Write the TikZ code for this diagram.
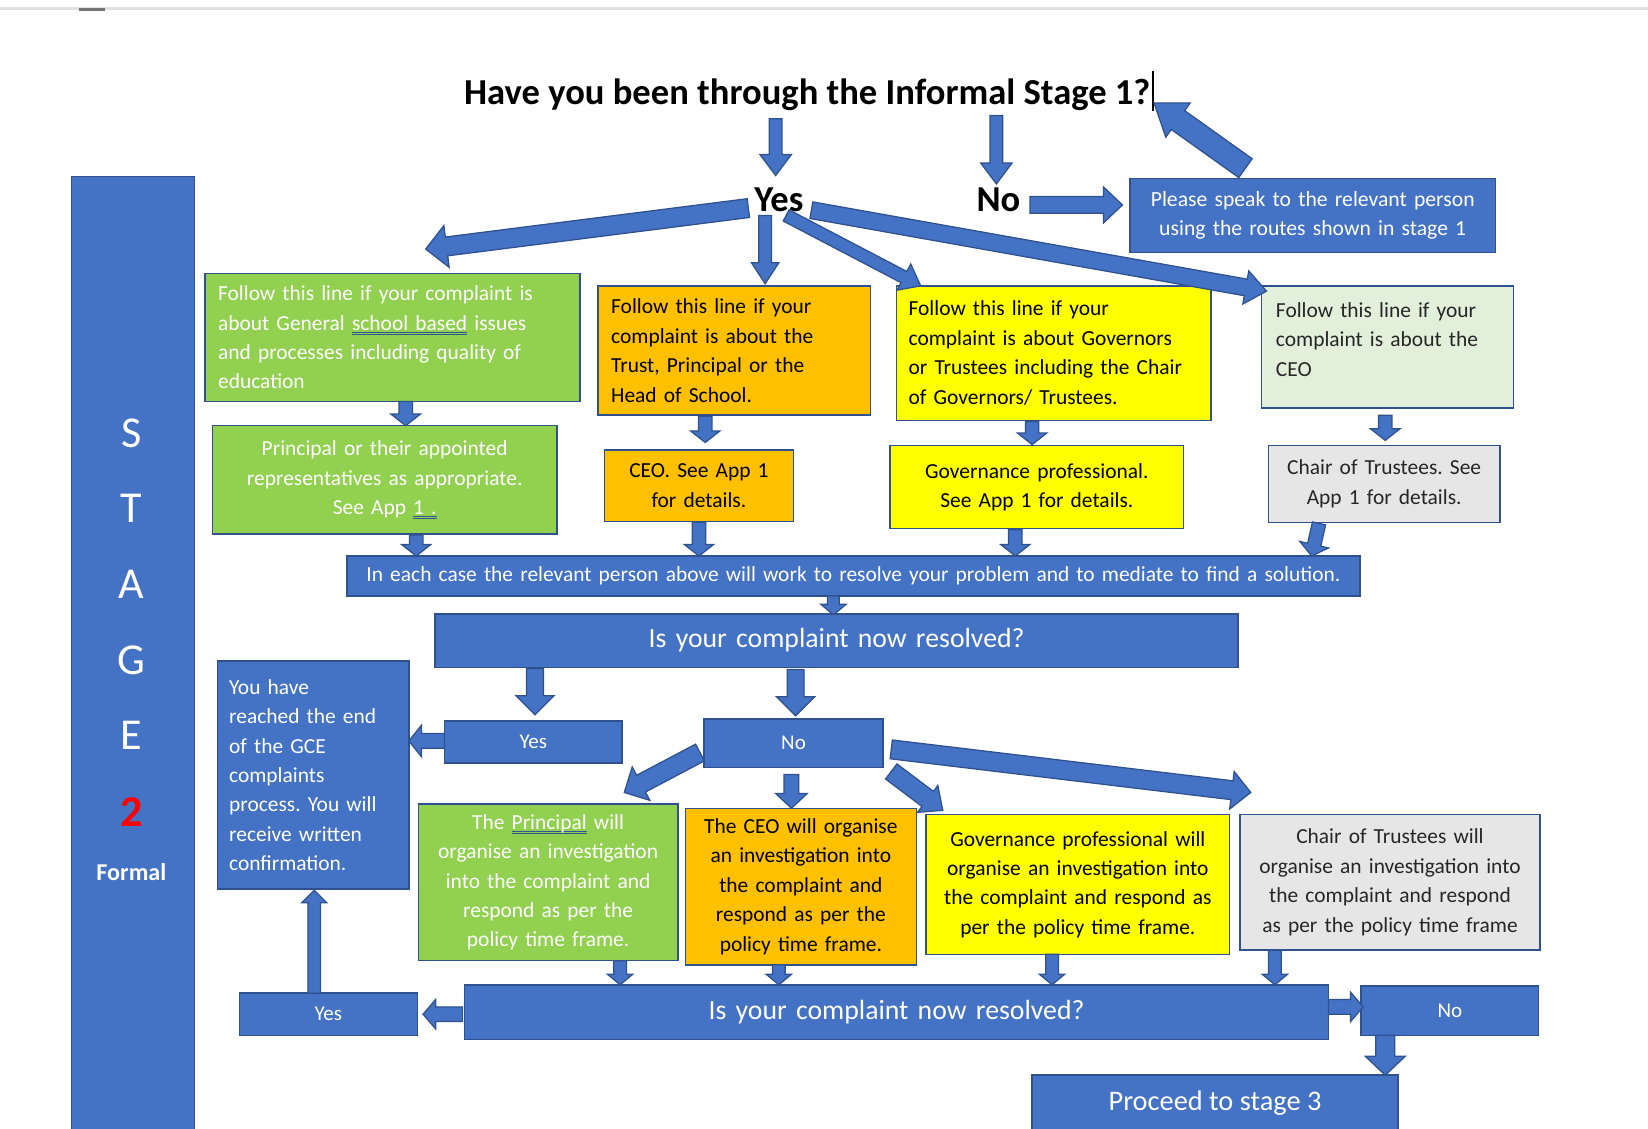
\documentclass[tikz,border=0pt]{standalone}
\usepackage{fontspec}
\setmainfont{Carlito}
\usepackage{tikz}
\usetikzlibrary{calc}
\definecolor{mblue}{HTML}{4472C4}
\definecolor{edgeblue}{HTML}{2F528F}
\definecolor{mgreen}{HTML}{92D050}
\definecolor{morange}{HTML}{FFC000}
\definecolor{myellow}{HTML}{FFFF00}
\definecolor{palegreen}{HTML}{E2EFDA}
\definecolor{lgrey}{HTML}{E7E6E6}
\definecolor{spellblue}{HTML}{2F5597}
\frenchspacing
\tikzset{
  boxed/.style={
    draw=edgeblue,
    line width=0.7pt,
    inner sep=0pt,
    font=\fontsize{10.2}{14}\selectfont,
  },
  dims/.style n args={3}{
    minimum width=#1,
    minimum height=#2,
    text width=#3,
  },
  bluebox/.style={
    boxed,
    fill=mblue,
    text=white,
  },
  greenbox/.style={
    boxed,
    fill=mgreen,
    text=white,
  },
  orangebox/.style={
    boxed,
    fill=morange,
  },
  yellowbox/.style={
    boxed,
    fill=myellow,
  },
  palebox/.style={
    boxed,
    fill=palegreen,
    text=black!85,
  },
  greybox/.style={
    boxed,
    fill=lgrey,
    text=black!85,
  },
  question/.style={
    bluebox,
    font=\fontsize{13.2}{16}\selectfont,
  },
  answer/.style={
    bluebox,
    font=\fontsize{10}{12}\selectfont,
  },
  bigword/.style={
    font=\bfseries\fontsize{17.4}{20}\selectfont,
    inner sep=0pt,
  },
  stagelet/.style={
    text=white,
    font=\fontsize{21}{24}\selectfont,
    inner sep=0pt,
  },
  blockarrow/.style={
    fill=mblue,
    draw=edgeblue,
    line width=0.6pt,
    line join=miter,
  },
}
% from, to, shaft half width, head half width, head length
\newcommand{\blk}[5]{%
  \path (#1) coordinate (bka) (#2) coordinate (bkb);
  \filldraw[blockarrow]
    ($(bka)!#3!90:(bkb)$) -- ($(bkb)!#5!(bka)!#3!90:(bkb)$)
    -- ($(bkb)!#5!(bka)!#4!90:(bkb)$) -- (bkb)
    -- ($(bkb)!#5!(bka)!#4!-90:(bkb)$) -- ($(bkb)!#5!(bka)!#3!-90:(bkb)$)
    -- ($(bka)!#3!-90:(bkb)$) -- cycle;
}
\newcommand{\spell}[1]{\setbox0=\hbox{#1}\rlap{\textcolor{spellblue}{\rule[-1.3pt]{\wd0}{0.35pt}}}\rlap{\textcolor{spellblue}{\rule[-2.1pt]{\wd0}{0.35pt}}}\box0\relax}

\begin{document}
\begin{tikzpicture}[x=0.5pt, y=-0.5pt]
  \useasboundingbox (0,0) rectangle (1568,1074);
  \draw[black!12, line width=1.2pt] (0,8) -- (1568,8);
  \draw[black!55, line width=1.5pt] (75,9) -- (100,9);

  % stage column
  \node[bluebox, minimum width=58.5pt, minimum height=456pt] (stage) at (126.5,624) {};
  \foreach \l [count=\i from 0] in {S,T,A,G,E}
    \node[stagelet] (st\i) at (125,412+72*\i) {\l};
  \node[stagelet, text=red, font=\bfseries\fontsize{21}{24}\selectfont] (st5) at (125,773) {2};
  \node[stagelet, font=\bfseries\fontsize{11.5}{14}\selectfont] (formal) at (125,830) {Formal};

  % first question
  \node[bigword] (title) at (768,90) {Have you been through the Informal Stage 1?};
  \draw[line width=0.5pt] ($(title)+(329,-22)$) -- ($(title)+(329,16)$);
  \node[bigword] (yes) at (741,190) {Yes};
  \node[bigword] (no) at (950,190) {No};
  \node[bluebox, dims={174pt}{35pt}{164pt}, align=center, font=\fontsize{10.3}{14}\selectfont] (please) at (1249,205)
    {Please speak to the relevant person\\ using the routes shown in stage 1};

  % who the complaint is about
  \node[greenbox, dims={178.5pt}{61pt}{166pt}, align=left] (green1) at (373.5,321)
    {Follow this line if your complaint is\\ about General \spell{school based} issues\\ and processes including quality of\\ education};
  \node[orangebox, dims={129.5pt}{61.5pt}{117pt}, align=left] (orange1) at (698.5,333.5)
    {Follow this line if your\\ complaint is about the\\ Trust, Principal or the\\ Head of School.};
  \node[yellowbox, dims={149.5pt}{64pt}{138pt}, align=left] (yellow1) at (1002.5,336)
    {Follow this line if your\\ complaint is about Governors\\ or Trustees including the Chair\\ of Governors/ Trustees.};
  \node[palebox, dims={120pt}{58pt}{106pt}, align=left] (ceo1) at (1320,330)
    {Follow this line if your\\ complaint is about the\\ CEO\\[-7pt] \mbox{}};

  \node[greenbox, dims={164pt}{51.5pt}{152pt}, align=center] (green2) at (366,456.5)
    {Principal or their appointed\\ representatives as appropriate.\\ See App \spell{1 .}};
  \node[orangebox, dims={90pt}{34pt}{82pt}, align=center] (orange2) at (665,462)
    {CEO. See App 1\\ for details.};
  \node[yellowbox, dims={139.5pt}{39.5pt}{128pt}, align=center] (yellow2) at (986.5,463.5)
    {Governance professional.\\ See App 1 for details.};
  \node[greybox, dims={110pt}{36.5pt}{102pt}, align=center] (gray2) at (1317,460.5)
    {Chair of Trustees. See\\ App 1 for details.};

  \node[bluebox, dims={482pt}{19pt}{474pt}, align=center, font=\fontsize{10.2}{12}\selectfont] (banner) at (812,548)
    {In each case the relevant person above will work to resolve your problem and to mediate to find a solution.};
  \node[question, dims={382pt}{25.5pt}{370pt}, align=center] (res1) at (796,609.5) {Is your complaint now resolved?};
  \node[answer, minimum width=84.5pt, minimum height=20pt] (yes1) at (507.5,706) {Yes};
  \node[answer, minimum width=85pt, minimum height=23pt] (no1) at (755,707) {No};
  \node[bluebox, dims={91pt}{108.5pt}{80pt}, align=left] (endbox) at (298,737.5)
    {You have\\ reached the end\\ of the GCE\\ complaints\\ process. You will\\ receive written\\ confirmation.};

  % investigations
  \node[greenbox, dims={123.5pt}{74.5pt}{118pt}, align=center] (green3) at (521.5,839.5)
    {The \spell{Principal} will\\ organise an investigation\\ into the complaint and\\ respond as per the\\ policy time frame.};
  \node[orangebox, dims={110pt}{74.5pt}{104pt}, align=center] (orange3) at (762,843.5)
    {The CEO will organise\\ an investigation into\\ the complaint and\\ respond as per the\\ policy time frame.};
  \node[yellowbox, dims={144.5pt}{66.5pt}{138pt}, align=center] (yellow3) at (1025.5,841.5)
    {Governance professional will\\ organise an investigation into\\ the complaint and respond as\\ per the policy time frame.};
  \node[greybox, dims={142.5pt}{64.5pt}{136pt}, align=center] (gray3) at (1322.5,839.5)
    {Chair of Trustees will\\ organise an investigation into\\ the complaint and respond\\ as per the policy time frame};

  \node[question, dims={411pt}{26pt}{400pt}, align=center] (res2) at (853,963) {Is your complaint now resolved?};
  \node[answer, minimum width=84.5pt, minimum height=20pt] (yes2) at (312.5,965) {Yes};
  \node[answer, minimum width=84.5pt, minimum height=23.5pt] (no2) at (1379.5,961.5) {No};
  \node[question, minimum width=174pt, minimum height=30pt, text depth=6pt, font=\fontsize{13.5}{16}\selectfont] (proceed) at (1156,1053) {Proceed to stage 3};

  % block arrows
  \blk{$(title)+(-30,23)$}{$(yes)+(-3,-23)$}{3pt}{7.5pt}{10pt}
  \blk{$(title)+(180,20)$}{$(no)+(-2,-15)$}{3pt}{7.5pt}{10pt}
  \blk{$(no)+(30,5)$}{$(please)+(-181,-10)$}{4pt}{8.5pt}{9pt}
  \blk{$(please)+(-64,-45)$}{$(title)+(330,8)$}{5.5pt}{10pt}{14pt}
  \blk{$(yes)+(-29,8)$}{$(green1)+(31.5,-84)$}{4.5pt}{10pt}{10pt}
  \blk{$(yes)+(-13,15)$}{$(orange1)+(29.5,-63.5)$}{3pt}{6.5pt}{10pt}
  \blk{$(yes)+(7,15)$}{$(yellow1)+(-126.5,-64)$}{3pt}{7pt}{9pt}
  \blk{$(yes)+(31,10)$}{$(ceo1)+(-115,-53)$}{4pt}{8pt}{10pt}

  \blk{$(green1)+(12.5,61)$}{$(green2)+(20,-51.5)$}{3.2pt}{7pt}{5.5pt}
  \blk{$(orange1)+(-27.5,62.5)$}{$(orange2)+(6,-41)$}{3.2pt}{7pt}{5.5pt}
  \blk{$(yellow1)+(-20.5,65)$}{$(yellow2)+(-4.5,-40.5)$}{3.2pt}{7pt}{5.5pt}
  \blk{$(ceo1)+(-2,65)$}{$(gray2)+(1,-41.5)$}{3.2pt}{7pt}{5.5pt}
  \blk{$(green2)+(30,52.5)$}{$(banner)+(-416,-19)$}{3.2pt}{7pt}{5.5pt}
  \blk{$(orange2)+(0,35)$}{$(banner)+(-147,-19)$}{3.2pt}{7pt}{5.5pt}
  \blk{$(yellow2)+(-20.5,40.5)$}{$(banner)+(154,-19)$}{3.2pt}{7pt}{5.5pt}
  \blk{$(gray2)+(-62,37.5)$}{$(banner)+(436,-19)$}{3.2pt}{7pt}{5.5pt}
  \blk{$(banner)+(-19,19)$}{$(res1)+(-3,-24.5)$}{2.8pt}{6pt}{5pt}

  \blk{$(res1)+(-287,26.5)$}{$(yes1)+(1.5,-26)$}{4pt}{9pt}{9pt}
  \blk{$(res1)+(-39,27.5)$}{$(no1)+(2,-26)$}{4pt}{9pt}{9pt}
  \blk{$(yes1)+(-84.5,-1)$}{$(endbox)+(91,-32.5)$}{3.5pt}{7.5pt}{6pt}
  \blk{$(no1)+(-89,9)$}{$(green3)+(72.5,-85.5)$}{4.5pt}{9pt}{9pt}
  \blk{$(no1)+(-2,30)$}{$(orange3)+(-9,-74.5)$}{3.5pt}{7.5pt}{7pt}
  \blk{$(no1)+(93,27)$}{$(yellow3)+(-128.5,-70.5)$}{4.5pt}{8pt}{9pt}
  \blk{$(no1)+(93,6)$}{$(gray3)+(-132.5,-85.5)$}{4.5pt}{9pt}{9pt}

  \blk{$(green3)+(68.5,74.5)$}{$(res2)+(-263,-26)$}{3pt}{6pt}{5pt}
  \blk{$(orange3)+(-21,74.5)$}{$(res2)+(-112,-26)$}{3pt}{6pt}{5pt}
  \blk{$(yellow3)+(-24.5,66.5)$}{$(res2)+(148,-26)$}{3pt}{6pt}{5pt}
  \blk{$(gray3)+(-109.5,64.5)$}{$(res2)+(360,-26)$}{3pt}{6pt}{5pt}
  \blk{$(res2)+(-413,2)$}{$(yes2)+(90,0)$}{3.5pt}{7pt}{6pt}
  \blk{$(yes2)+(-13.5,-20)$}{$(endbox)+(1,109.5)$}{3pt}{6pt}{6pt}
  \blk{$(res2)+(411,-5)$}{$(no2)+(-82.5,-3.5)$}{3.5pt}{7pt}{6pt}
  \blk{$(no2)+(-61.5,23.5)$}{$(proceed)+(162,-30)$}{4.5pt}{9.5pt}{9pt}
\end{tikzpicture}
\end{document}
